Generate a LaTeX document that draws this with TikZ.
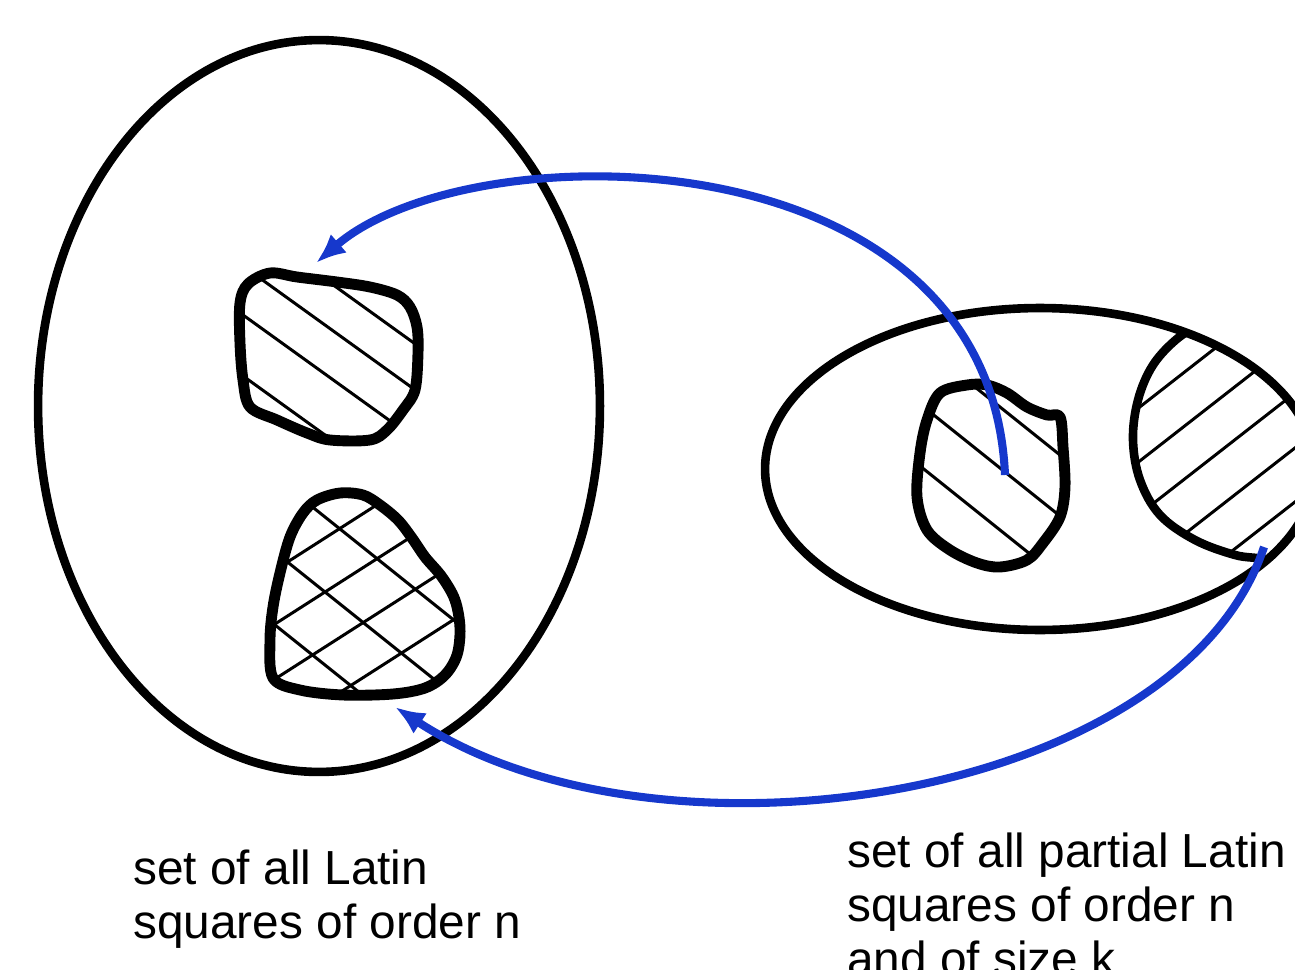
\documentclass[tikz,border=0pt]{standalone}
\usepackage{fontspec}
\setmainfont{Liberation Sans}
\usetikzlibrary{arrows.meta}
\definecolor{arrowblue}{RGB}{22,56,204}
\begin{document}
\begin{tikzpicture}[x=0.02cm,y=-0.02cm,
  setline/.style={line width=4.9pt},
  blobline/.style={line width=6.2pt, line join=round},
  hatchline/.style={line width=1.7pt},
  maparrow/.style={arrowblue, line width=4.6pt, -{Latex[length=17pt,width=14pt]}},
  lbl/.style={font=\fontsize{27.2}{30.6}\selectfont, anchor=base west, inner sep=0pt, align=left}]
\useasboundingbox (0,0) rectangle (1295,970);
\clip (0,0) rectangle (1295,970);

% left set
\coordinate (lc) at (319,406);
\draw[setline] (lc) ellipse [x radius=5.62cm, y radius=7.32cm];

% top-left blob (single hatch)
\draw[blobline, path picture={
    \foreach \c in {45,91,140,201,255}
      \draw[hatchline] (200,{\c+144}) -- (480,{\c+345.6});
  }]
  plot[smooth cycle, tension=0.55] coordinates {(248,284) (270,273) (297,277) (337,282) (370,287) (397,295) (410,307) (417,327) (418,353) (415,390) (403,410) (387,430) (370,440) (330,440) (307,433) (277,420) (250,407) (243,380) (240,343) (240,303)};

% bottom-left blob (cross hatch)
\draw[blobline, path picture={
    \foreach \c in {185,257,332,405,478}
      \draw[hatchline] (240,{\c+192}) -- (480,{\c+384});
    \foreach \c in {690,746,800,855,910,965}
      \draw[hatchline] (240,{\c-153.6}) -- (480,{\c-307.2});
  }]
  plot[smooth cycle, tension=0.55] coordinates {(317,500) (340,493) (363,495) (380,505) (398,520) (412,538) (425,557) (442,577) (455,600) (460,628) (457,655) (445,675) (425,688) (393,694) (343,695) (300,690) (273,678) (270,640) (273,607) (280,573) (290,537) (303,513)};

% right set
\coordinate (rc) at (1040,469);
\begin{scope}
  \clip (rc) ellipse [x radius=5.5cm, y radius=3.22cm];
  \path[path picture={
      \foreach \c in {1245,1296,1350,1403,1458,1512,1566}
        \draw[hatchline] (1100,{\c-858}) -- (1330,{\c-1037.4});
    }]
    plot[smooth, tension=0.6] coordinates {(1205,322) (1178,338) (1153,365) (1138,400) (1133,440) (1140,480) (1160,515) (1195,540) (1235,555) (1265,560) (1285,575)}
    -- (1330,600) -- (1330,300) -- cycle;
  \draw[setline]
    plot[smooth, tension=0.6] coordinates {(1205,322) (1178,338) (1153,365) (1138,400) (1133,440) (1140,480) (1160,515) (1195,540) (1235,555) (1265,560) (1285,575)};
\end{scope}
\draw[setline] (rc) ellipse [x radius=5.5cm, y radius=3.22cm];

% right small blob
\draw[blobline, path picture={
    \foreach \c in {-455,-393,-332,-270,-210}
      \draw[hatchline] (880,{\c+704}) -- (1100,{\c+880});
  }]
  plot[smooth cycle, tension=0.55] coordinates {(940,393) (967,385) (987,385) (1007,393) (1027,407) (1047,415) (1060,417) (1063,447) (1065,487) (1060,517) (1043,543) (1027,560) (1000,567) (977,563) (950,550) (927,530) (917,497) (920,453) (927,420)};

% arrows
\coordinate (a1s) at (1005,475);
\coordinate (a1e) at (316,263);
\coordinate (a2s) at (1264,547);
\coordinate (a2e) at (395,707);
\draw[maparrow] (a1s) .. controls (990,130) and (470,130) .. (a1e);
\draw[maparrow] (a2s) .. controls (1180,800) and (660,880) .. (a2e);

% labels
\node[lbl] (lsq) at (133,938) {set of all Latin\\squares of order n};
\node[lbl] (plsq) at (847,975) {set of all partial Latin\\squares of order n\\and of size k};
\end{tikzpicture}
\end{document}
